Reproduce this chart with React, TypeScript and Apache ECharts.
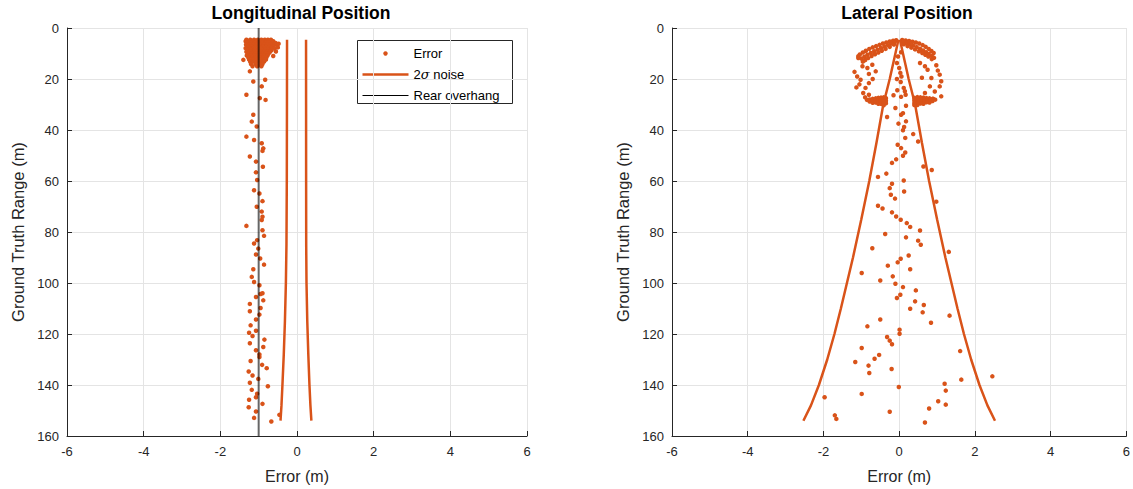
import React, { useEffect, useRef } from "react";
import * as echarts from "echarts";

const ORANGE = "#D95319";
const AXIS = "#262626";
const GRID = "#e4e4e4";

// ---------- axis ticks ----------
const xMin = -6;
const xMax = 6;
const xStep = 2;
const rangeMin = 0;
const rangeMax = 160;
const rangeStep = 20;

// ---------- Longitudinal: rear overhang ----------
const overhangX = [-1, -1];
const overhangRange = [0, 160];

// ---------- Longitudinal: 2-sigma noise ----------
const longNoiseRange = [4.6, 30, 60, 85, 100, 115, 128, 140, 148, 154];
const longNoiseUpper = [0.236, 0.237, 0.238, 0.24, 0.248, 0.268, 0.295, 0.325, 0.35, 0.375];
const longNoiseLower = [-0.26, -0.262, -0.266, -0.275, -0.29, -0.315, -0.345, -0.38, -0.405, -0.43];

// ---------- Longitudinal: error cluster (range, x values) ----------
const longClusterRows: [number, number[]][] = [
  [4.6, [-1.32, -1.22, -1.12, -1.02, -0.93, -0.84, -0.76, -0.68]],
  [5.2, [-1.34, -1.25, -1.16, -1.06, -0.97, -0.88, -0.79, -0.71, -0.62]],
  [5.9, [-1.3, -1.2, -1.1, -1.01, -0.91, -0.82, -0.73, -0.64, -0.56]],
  [6.5, [-1.33, -1.24, -1.14, -1.04, -0.95, -0.86, -0.77, -0.69, -0.6, -0.52]],
  [7.2, [-1.29, -1.19, -1.09, -0.99, -0.89, -0.8, -0.71, -0.63]],
  [7.9, [-1.34, -1.23, -1.13, -1.03, -0.94, -0.85, -0.76, -0.67, -0.58]],
  [8.6, [-1.3, -1.2, -1.1, -1.0, -0.91, -0.82, -0.73, -0.66]],
  [9.3, [-1.32, -1.22, -1.12, -1.03, -0.94, -0.85, -0.77, -0.7]],
  [10.0, [-1.28, -1.18, -1.08, -0.98, -0.89, -0.81, -0.74]],
  [10.8, [-1.31, -1.21, -1.11, -1.01, -0.92, -0.84, -0.77]],
  [11.6, [-1.27, -1.17, -1.07, -0.97, -0.88, -0.8]],
  [12.4, [-1.25, -1.15, -1.05, -0.96, -0.87, -0.81]],
  [13.2, [-1.22, -1.12, -1.02, -0.93, -0.86]],
  [14.1, [-1.2, -1.08, -0.97, -0.9]],
  [15.0, [-1.16, -1.04, -0.93]],
];
const longErrorExtra: [number, number][] = [
  [-0.48, 6.2], [-0.5, 7.6], [-0.55, 9.2], [-1.4, 12.5], [-0.62, 11.0],
];
const longErrorTail: [number, number][] = [
  [-1.23, 17.0], [-0.83, 20.3], [-1.14, 21.0], [-0.92, 22.9], [-1.32, 26.2], [-0.82, 28.2],
  [-0.97, 27.5], [-1.14, 34.0], [-1.18, 36.7], [-1.05, 38.6], [-1.32, 42.6], [-1.12, 43.9],
  [-0.92, 45.2], [-0.88, 47.2], [-1.23, 50.4], [-0.9, 48.2], [-1.07, 52.4], [-0.89, 54.4],
  [-1.07, 56.6], [-1.04, 59.6], [-1.12, 63.6], [-0.98, 64.9], [-0.9, 67.9], [-1.05, 70.1],
  [-0.92, 72.0], [-0.9, 74.0], [-0.92, 75.3], [-1.32, 77.6], [-0.9, 79.3], [-0.86, 81.5],
  [-1.04, 83.2], [-1.12, 84.5], [-1.01, 86.5], [-1.07, 88.8], [-0.96, 90.4], [-0.86, 92.8],
  [-1.14, 94.6], [-1.18, 97.6], [-1.12, 99.6], [-0.98, 100.9], [-0.95, 104.3], [-0.9, 104.0],
  [-1.07, 105.5], [-0.88, 106.8], [-1.23, 108.2], [-0.95, 109.8], [-1.23, 111.1], [-0.98, 112.4],
  [-1.07, 114.3], [-1.21, 116.6], [-1.07, 118.7], [-1.25, 119.5], [-1.16, 120.8], [-0.85, 122.2],
  [-1.23, 123.6], [-0.88, 125.1], [-1.07, 126.4], [-0.98, 128.0], [-0.98, 129.0], [-1.21, 130.6],
  [-0.91, 132.1], [-0.79, 133.4], [-1.26, 134.7], [-1.16, 136.3], [-1.01, 137.6], [-1.23, 139.1],
  [-0.76, 140.5], [-1.18, 141.9], [-1.04, 143.4], [-1.07, 144.8], [-1.25, 145.8], [-0.9, 147.4],
  [-1.26, 148.7], [-1.07, 150.4], [-1.12, 152.9], [-0.67, 154.3], [-0.46, 151.7],
];

// ---------- Lateral: 2-sigma noise (half width) ----------
const latNoiseRange = [4.6, 10, 20, 30, 45, 60, 75, 90, 100, 110, 120, 130, 140, 148, 154];
const latNoiseHalf = [0.02, 0.1, 0.25, 0.42, 0.6, 0.79, 1.0, 1.22, 1.38, 1.54, 1.71, 1.9, 2.12, 2.33, 2.53];

// ---------- Lateral: error points ----------
const latFan: [number, number][] = [
  [-0.08, 4.8], [-0.16, 5.0], [-0.25, 5.3], [-0.34, 5.7], [-0.43, 6.1], [-0.52, 6.6], [-0.61, 7.1],
  [-0.7, 7.6], [-0.79, 8.2], [-0.88, 8.9], [-0.96, 9.6], [-1.04, 10.4], [-1.08, 11.1],
  [-0.12, 5.6], [-0.21, 6.1], [-0.3, 6.7], [-0.39, 7.3], [-0.48, 7.9], [-0.57, 8.5], [-0.66, 9.1],
  [-0.75, 9.8], [-0.84, 10.5], [-0.92, 11.3], [-1.0, 12.0],
  [-0.14, 6.5], [-0.25, 7.4], [-0.36, 8.2], [-0.46, 8.9], [-0.55, 9.6], [-0.64, 10.3], [-0.73, 11.0],
  [-0.82, 11.8], [-0.9, 12.6], [-0.96, 13.2],
  [0.08, 4.7], [0.17, 4.9], [0.26, 5.1], [0.35, 5.4], [0.44, 5.7], [0.53, 6.1], [0.62, 6.7],
  [0.7, 7.4], [0.78, 8.2], [0.85, 9.0], [0.91, 9.8],
  [0.1, 5.5], [0.19, 5.9], [0.28, 6.4], [0.37, 6.9], [0.46, 7.5], [0.55, 8.1], [0.63, 8.8],
  [0.71, 9.5], [0.78, 10.2], [0.86, 11.0], [0.92, 11.7],
  [0.12, 6.4], [0.22, 7.1], [0.32, 7.7], [0.42, 8.4], [0.52, 9.1], [0.61, 9.8], [0.69, 10.5],
  [0.77, 11.2], [0.86, 12.2],
];
const latRings: [number, number][] = [
  [-1.08, 11.8], [-0.97, 15.0], [-0.84, 15.7], [-1.11, 19.0], [-1.02, 20.3], [-0.8, 21.6],
  [-1.13, 23.3], [-0.89, 23.5], [-0.95, 25.5], [-0.8, 26.2], [-0.71, 14.4], [-0.62, 17.0],
  [-0.8, 18.0], [-1.18, 17.2], [-1.05, 22.1], [-0.7, 20.0], [-0.9, 27.2],
  [0.55, 13.7], [0.68, 15.0], [0.75, 16.4], [0.85, 19.6], [1.07, 18.3], [1.11, 20.9],
  [0.81, 22.9], [1.07, 22.9], [0.94, 24.9], [1.11, 26.8], [0.68, 25.5], [0.98, 14.6],
  [1.02, 16.7], [0.6, 19.5], [0.9, 27.8],
];
const latWings: [number, number][] = [
  [-0.85, 28.2], [-0.78, 28.0], [-0.78, 28.8], [-0.7, 27.8], [-0.7, 28.6], [-0.7, 29.3],
  [-0.62, 27.6], [-0.62, 28.4], [-0.62, 29.2], [-0.55, 27.4], [-0.55, 28.2], [-0.55, 29.0],
  [-0.55, 29.7], [-0.48, 27.3], [-0.48, 28.1], [-0.48, 28.9], [-0.48, 29.7], [-0.41, 27.2],
  [-0.41, 28.0], [-0.41, 28.8], [-0.41, 29.6], [-0.41, 30.3], [-0.35, 27.5], [-0.35, 28.5],
  [-0.35, 29.5],
  [0.95, 28.1], [0.88, 27.8], [0.88, 28.6], [0.8, 27.6], [0.8, 28.4], [0.8, 29.2], [0.72, 27.5],
  [0.72, 28.3], [0.72, 29.1], [0.64, 27.3], [0.64, 28.1], [0.64, 28.9], [0.64, 29.7],
  [0.56, 27.2], [0.56, 28.0], [0.56, 28.8], [0.56, 29.6], [0.48, 27.1], [0.48, 27.9],
  [0.48, 28.7], [0.48, 29.5], [0.48, 30.2], [0.4, 27.4], [0.4, 28.4], [0.4, 29.4], [0.4, 30.2],
];
const latScatter: [number, number][] = [
  [0.05, 9.5], [-0.03, 11.2],
  [-0.06, 13.7], [0.0, 15.7], [0.03, 17.6], [0.06, 19.0], [-0.06, 20.0], [0.04, 21.2], [0.12, 23.5],
  [0.15, 24.8], [-0.05, 24.4], [-0.15, 26.4], [0.05, 27.0], [0.17, 26.2], [-0.1, 31.4], [0.18, 30.5],
  [0.1, 33.4], [0.05, 34.0], [-0.32, 34.9], [-0.02, 37.5], [0.18, 36.6], [0.13, 38.8], [0.1, 40.1],
  [0.37, 41.6], [0.16, 43.1], [0.5, 44.5], [-0.04, 45.8], [0.05, 47.1], [0.16, 48.8], [0.1, 50.1],
  [-0.08, 51.5], [-0.19, 52.9], [0.64, 54.3], [0.86, 55.7], [-0.34, 57.1], [-0.56, 58.4],
  [0.12, 59.8], [-0.19, 61.1], [-0.25, 62.8], [0.13, 64.1], [-0.22, 65.4], [-0.11, 66.9],
  [0.98, 68.1], [-0.56, 69.7], [-0.44, 70.8], [-0.19, 72.3], [-0.08, 73.9], [0.04, 75.2],
  [0.2, 76.5], [0.29, 78.0], [0.55, 79.4], [-0.37, 80.8], [0.18, 82.1], [0.5, 83.4], [0.57, 85.0],
  [-0.71, 86.4], [1.31, 87.8], [0.25, 89.2], [0.04, 90.5], [-0.04, 91.9], [-0.3, 93.2],
  [0.29, 94.6], [-0.99, 96.1], [-0.17, 97.4], [-0.5, 99.0], [-0.1, 100.3], [0.1, 101.6],
  [0.44, 102.9], [0.03, 104.6], [-0.06, 105.9], [0.42, 107.2], [0.65, 108.6], [0.29, 110.1],
  [0.62, 111.5], [1.33, 112.8], [-0.5, 114.3], [0.84, 115.6], [-0.84, 117.0], [0.01, 118.3],
  [0.01, 119.9], [-0.32, 121.2], [-0.25, 122.6], [-0.19, 124.0], [-0.99, 125.5], [1.61, 126.7],
  [-0.53, 128.2], [-0.65, 129.7], [-1.16, 131.0], [-0.81, 132.4], [-0.2, 133.7], [-0.79, 135.3],
  [2.46, 136.6], [1.64, 137.9], [1.2, 139.5], [-0.01, 140.8], [1.23, 142.2], [-0.99, 143.5],
  [-1.97, 144.8], [1.03, 146.4], [1.23, 147.7], [0.79, 149.2], [-0.25, 150.5], [-1.7, 151.9],
  [-1.66, 153.3], [0.68, 154.7],
];

const FONT = "'Liberation Sans', Arial, Helvetica, sans-serif";

function makeXAxis(gridIndex: number) {
  return {
    type: "value",
    gridIndex,
    min: xMin,
    max: xMax,
    interval: xStep,
    name: "Error (m)",
    nameLocation: "middle",
    nameGap: 32,
    nameTextStyle: { fontSize: 16, color: AXIS, fontFamily: FONT },
    axisLine: { show: true, onZero: false, lineStyle: { color: AXIS, width: 1 } },
    axisTick: { show: true, inside: true, length: 5, lineStyle: { color: AXIS } },
    axisLabel: { color: AXIS, fontSize: 13, margin: 9, fontFamily: FONT },
    splitLine: { show: true, lineStyle: { color: GRID, width: 1 } },
  };
}
function makeYAxis(gridIndex: number) {
  return {
    type: "value",
    gridIndex,
    inverse: true,
    min: rangeMin,
    max: rangeMax,
    interval: rangeStep,
    name: "Ground Truth Range (m)",
    nameLocation: "middle",
    nameGap: 41,
    nameRotate: 90,
    nameTextStyle: { fontSize: 16.5, color: AXIS, fontFamily: FONT },
    axisLine: { show: true, onZero: false, lineStyle: { color: AXIS, width: 1 } },
    axisTick: { show: true, inside: true, length: 5, lineStyle: { color: AXIS } },
    axisLabel: { color: AXIS, fontSize: 13, margin: 8, fontFamily: FONT },
    splitLine: { show: true, lineStyle: { color: GRID, width: 1 } },
  };
}

export default function App() {
  const ref = useRef<HTMLDivElement>(null);
  useEffect(() => {
    if (!ref.current) return;
    const chart = echarts.init(ref.current, null, { renderer: "svg" });

    const clusterPts: [number, number][] = [];
    longClusterRows.forEach(([r, xs]) => xs.forEach((x) => clusterPts.push([x, r])));
    const longErrorData = [...clusterPts, ...longErrorExtra, ...longErrorTail];

    const zip = (xs: number[], rs: number[]) => xs.map((x, i) => [x, rs[i]]);

    const option: any = {
      animation: false,
      backgroundColor: "#ffffff",
      textStyle: { fontFamily: FONT },
      title: [
        {
          text: "Longitudinal Position",
          left: 296,
          textAlign: "center",
          top: -1,
          textStyle: { fontSize: 17.5, fontWeight: "bold", color: "#000", fontFamily: FONT },
        },
        {
          text: "Lateral Position",
          left: 902,
          textAlign: "center",
          top: -1,
          textStyle: { fontSize: 17.5, fontWeight: "bold", color: "#000", fontFamily: FONT },
        },
      ],
      grid: [
        { left: 67, top: 28, width: 460, height: 408 },
        { left: 672, top: 28, width: 460, height: 408 },
      ],
      xAxis: [makeXAxis(0), makeXAxis(1)],
      yAxis: [makeYAxis(0), makeYAxis(1)],
      series: [
        {
          name: "Error",
          type: "scatter",
          xAxisIndex: 0,
          yAxisIndex: 0,
          data: longErrorData,
          symbolSize: 4.5,
          itemStyle: { color: ORANGE, opacity: 1 },
          z: 2,
        },
        {
          name: "2σ noise",
          type: "line",
          xAxisIndex: 0,
          yAxisIndex: 0,
          data: zip(longNoiseUpper, longNoiseRange),
          showSymbol: false,
          lineStyle: { color: ORANGE, width: 2.5 },
          z: 3,
        },
        {
          name: "2σ noise",
          type: "line",
          xAxisIndex: 0,
          yAxisIndex: 0,
          data: zip(longNoiseLower, longNoiseRange),
          showSymbol: false,
          lineStyle: { color: ORANGE, width: 2.5 },
          z: 3,
        },
        {
          name: "Rear overhang",
          type: "line",
          xAxisIndex: 0,
          yAxisIndex: 0,
          data: zip(overhangX, overhangRange),
          showSymbol: false,
          lineStyle: { color: "rgba(0,0,0,0.6)", width: 2 },
          z: 4,
        },
        {
          name: "Error",
          type: "scatter",
          xAxisIndex: 1,
          yAxisIndex: 1,
          data: [...latFan, ...latRings, ...latWings, ...latScatter],
          symbolSize: 4.5,
          itemStyle: { color: ORANGE, opacity: 1 },
          z: 2,
        },
        {
          name: "2σ noise",
          type: "line",
          xAxisIndex: 1,
          yAxisIndex: 1,
          data: zip(latNoiseHalf, latNoiseRange),
          showSymbol: false,
          lineStyle: { color: ORANGE, width: 2.5 },
          z: 3,
        },
        {
          name: "2σ noise",
          type: "line",
          xAxisIndex: 1,
          yAxisIndex: 1,
          data: zip(latNoiseHalf.map((v) => -v), latNoiseRange),
          showSymbol: false,
          lineStyle: { color: ORANGE, width: 2.5 },
          z: 3,
        },
      ],
      graphic: [
        {
          type: "group",
          left: 357,
          top: 40,
          z: 100,
          children: [
            {
              type: "rect",
              shape: { x: 0, y: 0, width: 155, height: 63 },
              style: { fill: "#ffffff", stroke: AXIS, lineWidth: 1 },
            },
            { type: "circle", shape: { cx: 28, cy: 13, r: 2.2 }, style: { fill: ORANGE } },
            {
              type: "line",
              shape: { x1: 5, y1: 34, x2: 51, y2: 34 },
              style: { stroke: ORANGE, lineWidth: 2.5 },
            },
            {
              type: "line",
              shape: { x1: 5, y1: 55, x2: 51, y2: 55 },
              style: { stroke: "#000", lineWidth: 1 },
            },
            {
              type: "text",
              x: 56,
              y: 13,
              style: { text: "Error", fontSize: 13, fill: "#000", verticalAlign: "middle", fontFamily: FONT },
            },
            {
              type: "text",
              x: 56,
              y: 34,
              style: {
                text: "{a|2}{s|σ}{a| noise}",
                verticalAlign: "middle",
                rich: {
                  a: { fontSize: 13, fill: "#000", fontFamily: FONT },
                  s: { fontSize: 13, fill: "#000", fontStyle: "italic", fontFamily: "'DejaVu Serif', serif" },
                },
              },
            },
            {
              type: "text",
              x: 56,
              y: 55,
              style: { text: "Rear overhang", fontSize: 13, fill: "#000", verticalAlign: "middle", fontFamily: FONT },
            },
          ],
        },
      ],
    };
    chart.setOption(option);
    return () => chart.dispose();
  }, []);
  return (
    <div
      ref={ref}
      style={{ position: "absolute", left: 0, top: 0, width: 1133, height: 489 }}
    />
  );
}
